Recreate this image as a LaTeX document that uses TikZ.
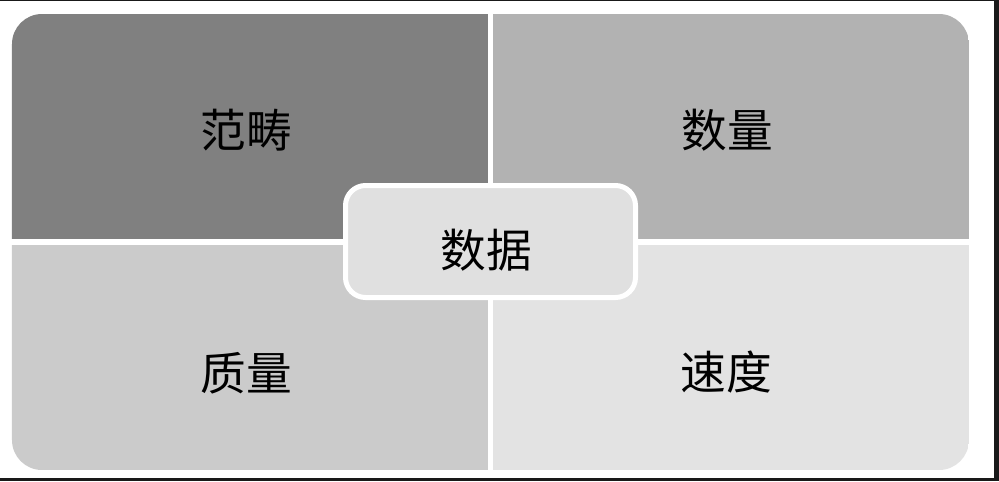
\documentclass[tikz,border=0pt]{standalone}
\usepackage{fontspec}
\usepackage{xcolor}
\usepackage{tikz}
\newfontfamily\cjk{Noto Sans CJK SC}
\definecolor{grayA}{HTML}{808080}
\definecolor{grayB}{HTML}{B2B2B2}
\definecolor{grayC}{HTML}{CBCBCB}
\definecolor{grayD}{HTML}{E3E3E3}
\definecolor{grayE}{HTML}{E0E0E0}
\begin{document}
\begin{tikzpicture}[
    quad/.style={rectangle, inner sep=0pt, minimum width=4.76cm, minimum height=2.25cm},
    hub/.style={rectangle, rounded corners=0.2cm, draw=white, line width=0.05cm, fill=grayE,
        minimum width=2.90cm, minimum height=1.12cm},
    tag/.style={inner sep=0pt, font=\cjk\fontsize{13}{15}\selectfont}
]
        \useasboundingbox (0,0) rectangle (9.99,4.81);
        \fill[white] (0,0) rectangle (9.99,4.81);

        % Frame
        \fill[black!90] (0,4.80) rectangle (9.99,4.81);
        \fill[black!90] (9.94,0) rectangle (9.99,4.81);
        \fill[black!90] (0,0) rectangle (9.99,0.03);

        % Quadrants
        \begin{scope}
            \clip[rounded corners=0.3cm] (0.12,0.11) rectangle (9.69,4.67);
            \node[quad, fill=grayA] (scope) at (2.495,3.545) {};
            \node[quad, fill=grayB] (amount) at (7.31,3.545) {};
            \node[quad, fill=grayC] (quality) at (2.495,1.24) {};
            \node[quad, fill=grayD] (speed) at (7.31,1.24) {};
        \end{scope}

        % Centre
        \node[hub] (data) at (4.905,2.395) {};

        % Labels
        \node[tag] (scope-t) at (2.46,3.51) {范畴};
        \node[tag] (amount-t) at (7.27,3.51) {数量};
        \node[tag] (quality-t) at (2.46,1.08) {质量};
        \node[tag] (speed-t) at (7.26,1.09) {速度};
        \node[tag] (data-t) at (4.86,2.31) {数据};
    \end{tikzpicture}
\end{document}
